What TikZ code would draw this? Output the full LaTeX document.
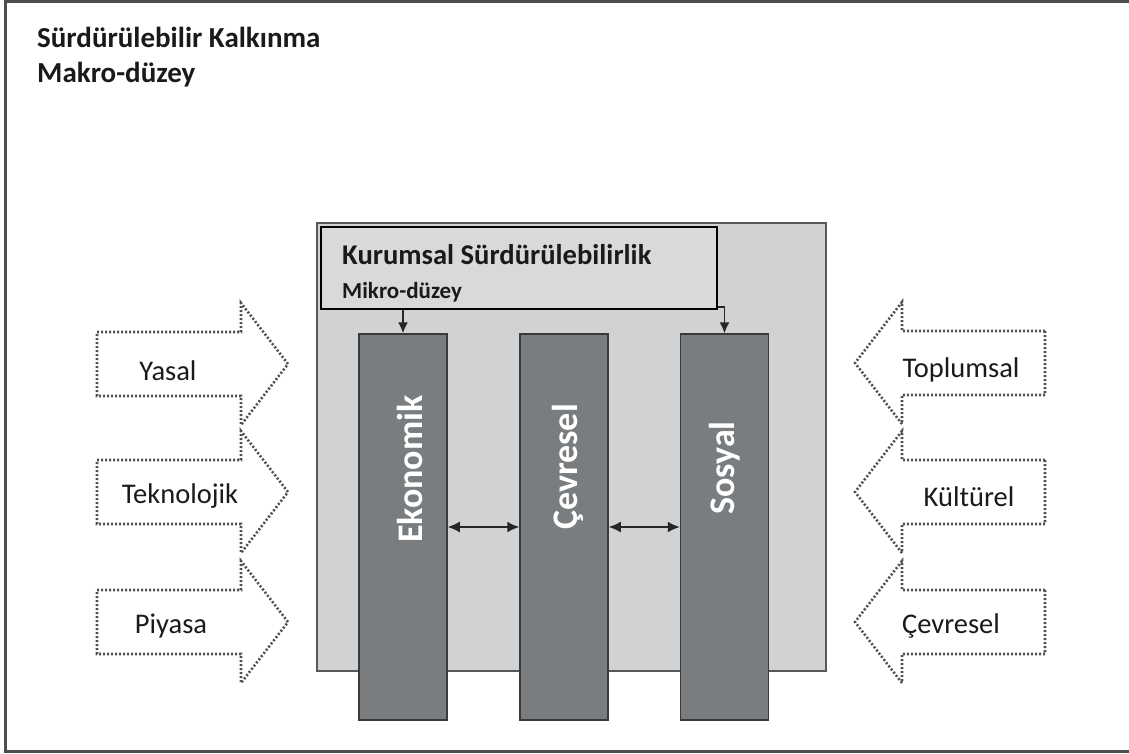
\documentclass[tikz,border=0pt]{standalone}
\usepackage{fontspec}
\setmainfont{Carlito}
\usetikzlibrary{arrows.meta}
\definecolor{boxgray}{HTML}{D1D2D4}
\definecolor{innergray}{HTML}{D9D9D9}
\definecolor{pillargray}{HTML}{7A7D80}
\definecolor{edgedark}{HTML}{3A3A3A}
\definecolor{dotgray}{HTML}{505050}
\definecolor{txt}{HTML}{1A1A1A}
\tikzset{
  frame/.style={draw=edgedark!90, line width=3pt},
  bigbox/.style={draw=edgedark!85, fill=boxgray, line width=2.5pt},
  innerbox/.style={draw=black, fill=innergray, line width=1.5pt},
  pillar/.style={draw=edgedark, fill=pillargray, line width=1.5pt, minimum width=88pt, minimum height=386pt, inner sep=0pt},
  pillartext/.style={text=white, font=\fontsize{36}{40}\selectfont\bfseries, rotate=90, inner sep=0pt},
  titletext/.style={text=txt, font=\fontsize{29}{34}\selectfont\bfseries, inner sep=0pt},
  sidetext/.style={text=txt, font=\fontsize{28.5}{33}\selectfont, inner sep=0pt, anchor=base},
  dotarrow/.style={draw=dotgray, line width=2.6pt, dash pattern=on 2pt off 2pt, line join=miter},
  conn/.style={draw=black!85, line width=1.5pt, -{Latex[length=11pt,width=10pt]}},
  dconn/.style={draw=black!85, line width=1.6pt, {Latex[length=12pt,width=11pt]}-{Latex[length=12pt,width=11pt]}}
}
\begin{document}
\begin{tikzpicture}[x=1pt,y=-1pt]
\useasboundingbox (0,0) rectangle (1129,754);
\fill[white] (0,0) rectangle (1129,754);
% outer frame (right side beyond picture)
\draw[frame] (1160,2) -- (5,2) -- (5,751) -- (1160,751);
% titles
\node[titletext, anchor=base west] (t1) at (37,48) {Sürdürülebilir Kalkınma};
\node[titletext, anchor=base west] (t2) at (37,83) {Makro-düzey};
% big gray box
\draw[bigbox] (317,223) rectangle (826,671);
% pillars
\node[pillar] (eko) at (403,527) {};
\node[pillar] (cev) at (564,527) {};
\node[pillar] (sos) at (724.5,527) {};
\node[pillartext] (ekot) at (410,469) {Ekonomik};
\node[pillartext] (cevt) at (568,467) {Çevresel};
\node[pillartext] (sost) at (725,468) {Sosyal};
% inner box
\node[innerbox, minimum width=396pt, minimum height=82pt, inner sep=0pt] (kb) at (519,268) {};
\node[titletext, anchor=base west, font=\fontsize{28.6}{32}\selectfont\bfseries] (kbt) at (342,264) {Kurumsal Sürdürülebilirlik};
\node[titletext, anchor=base west, font=\fontsize{23}{26}\selectfont\bfseries] (kbm) at (342,298) {Mikro-düzey};
% connectors
\draw[conn] (kb.south -| eko.north) -- (eko.north);
\coordinate (kbr) at ([yshift=3pt]kb.south east);
\draw[conn] (kbr) -| (sos.north);
\draw[dconn] (eko.east) -- (cev.west);
\draw[dconn] (cev.east) -- (sos.west);
% left dotted arrows
\foreach \c in {364,492,622}{
  \draw[dotarrow] (97,\c-32) -- (241,\c-32) -- (241,\c-61) -- (288,\c) -- (241,\c+61) -- (241,\c+32) -- (97,\c+32) -- cycle;
}
% right dotted arrows
\foreach \c in {363,492,622}{
  \draw[dotarrow] (1045,\c-32) -- (902,\c-32) -- (902,\c-61) -- (855,\c) -- (902,\c+61) -- (902,\c+32) -- (1045,\c+32) -- cycle;
}
\node[sidetext] (yas) at (168,380) {Yasal};
\node[sidetext] (tek) at (180,503) {Teknolojik};
\node[sidetext] (piy) at (171,633) {Piyasa};
\node[sidetext] (top) at (961,377) {Toplumsal};
\node[sidetext] (kul) at (969,506) {Kültürel};
\node[sidetext] (cvr) at (951,633) {Çevresel};
\end{tikzpicture}
\end{document}
